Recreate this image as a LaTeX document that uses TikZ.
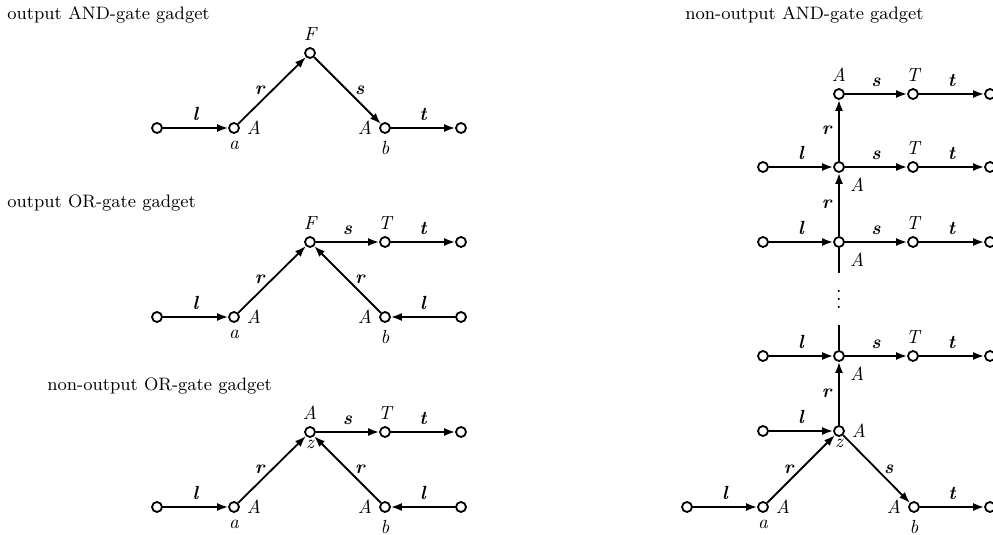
\documentclass[tikz,border=0pt]{standalone}
\usetikzlibrary{arrows.meta}
\begin{document}
\begin{tikzpicture}[x=0.5pt,y=-0.5pt,
  vtx/.style={circle,draw,line width=0.9pt,minimum size=5pt,inner sep=0pt},
  arr/.style={line width=0.9pt,-{Latex[length=5.5pt,width=4pt]}},
  ln/.style={line width=0.9pt},
  lab/.style={font=\fontsize{9.5}{11}\selectfont\bfseries\itshape},
  every label/.style={font=\fontsize{9.5}{11}\selectfont\itshape},
  ttl/.style={font=\fontsize{9}{10}\selectfont, anchor=west, inner sep=0pt},
]
\useasboundingbox (0,0) rectangle (993,535);

% titles
\node[ttl] (t1) at (7,15) {output AND-gate gadget};
\node[ttl] (t2) at (7,203) {output OR-gate gadget};
\node[ttl] (t3) at (47,386) {non-output OR-gate gadget};
\node[ttl] (t4) at (685,15) {non-output AND-gate gadget};

% panel 1: output AND
\node[vtx] (p1l) at (157,128) {};
\node[vtx,label=right:A,label=below:a] (p1a) at (234,128) {};
\node[vtx,label=above:F] (p1F) at (310,53) {};
\node[vtx,label=left:A,label=below:b] (p1b) at (385,128) {};
\node[vtx] (p1e) at (461,128) {};
\draw[arr] (p1l) -- node[lab,above]{l} (p1a);
\draw[arr] (p1a) -- node[lab,left]{r} (p1F);
\draw[arr] (p1F) -- node[lab,right]{s} (p1b);
\draw[arr] (p1b) -- node[lab,above]{t} (p1e);

% panel 2: output OR
\node[vtx] (p2l) at (157,317) {};
\node[vtx,label=right:A,label=below:a] (p2a) at (234,317) {};
\node[vtx,label=above:F] (p2F) at (310,242) {};
\node[vtx,label=above:T] (p2T) at (385,242) {};
\node[vtx] (p2e) at (461,242) {};
\node[vtx,label=left:A,label=below:b] (p2b) at (385,317) {};
\node[vtx] (p2r) at (461,317) {};
\draw[arr] (p2l) -- node[lab,above]{l} (p2a);
\draw[arr] (p2a) -- node[lab,left]{r} (p2F);
\draw[arr] (p2b) -- node[lab,right]{r} (p2F);
\draw[arr] (p2r) -- node[lab,above]{l} (p2b);
\draw[arr] (p2F) -- node[lab,above]{s} (p2T);
\draw[arr] (p2T) -- node[lab,above]{t} (p2e);

% panel 3: non-output OR
\node[vtx] (p3l) at (157,507) {};
\node[vtx,label=right:A,label=below:a] (p3a) at (234,507) {};
\node[vtx,label=above:A,label={[inner sep=1pt]below:z}] (p3z) at (310,432) {};
\node[vtx,label=above:T] (p3T) at (385,432) {};
\node[vtx] (p3e) at (461,432) {};
\node[vtx,label=left:A,label=below:b] (p3b) at (385,507) {};
\node[vtx] (p3r) at (461,507) {};
\draw[arr] (p3l) -- node[lab,above]{l} (p3a);
\draw[arr] (p3a) -- node[lab,left]{r} (p3z);
\draw[arr] (p3b) -- node[lab,right]{r} (p3z);
\draw[arr] (p3r) -- node[lab,above]{l} (p3b);
\draw[arr] (p3z) -- node[lab,above]{s} (p3T);
\draw[arr] (p3T) -- node[lab,above]{t} (p3e);

% right panel: non-output AND
% row 1
\node[vtx,label=above:A] (q1) at (839,94) {};
\node[vtx,label=above:T] (q1T) at (913,94) {};
\node[vtx] (q1e) at (990,94) {};
\draw[arr] (q1) -- node[lab,above]{s} (q1T);
\draw[arr] (q1T) -- node[lab,above]{t} (q1e);
% row 2
\node[vtx] (q2l) at (763,167) {};
\node[vtx,label=below right:A] (q2) at (839,167) {};
\node[vtx,label=above:T] (q2T) at (913,167) {};
\node[vtx] (q2e) at (990,167) {};
\draw[arr] (q2l) -- node[lab,above]{l} (q2);
\draw[arr] (q2) -- node[lab,above]{s} (q2T);
\draw[arr] (q2T) -- node[lab,above]{t} (q2e);
\draw[arr] (q2) -- node[lab,left]{r} (q1);
% row 3
\node[vtx] (q3l) at (763,242) {};
\node[vtx,label=below right:A] (q3) at (839,242) {};
\node[vtx,label=above:T] (q3T) at (913,242) {};
\node[vtx] (q3e) at (990,242) {};
\draw[arr] (q3l) -- node[lab,above]{l} (q3);
\draw[arr] (q3) -- node[lab,above]{s} (q3T);
\draw[arr] (q3T) -- node[lab,above]{t} (q3e);
\draw[arr] (q3) -- node[lab,left]{r} (q2);
% gap
\coordinate (c1) at (839,273);
\coordinate (c2) at (839,325);
\node[inner sep=0pt] (dots) at (839,293) {$\vdots$};
\draw[ln] (q3) -- (c1);
% row 4
\node[vtx] (q4l) at (763,356) {};
\node[vtx,label=below right:A] (q4) at (839,356) {};
\node[vtx,label=above:T] (q4T) at (913,356) {};
\node[vtx] (q4e) at (990,356) {};
\draw[ln] (c2) -- (q4);
\draw[arr] (q4l) -- node[lab,above]{l} (q4);
\draw[arr] (q4) -- node[lab,above]{s} (q4T);
\draw[arr] (q4T) -- node[lab,above]{t} (q4e);
% row z
\node[vtx] (q5l) at (763,431) {};
\node[vtx,label=right:A,label={[inner sep=1pt]below:z}] (qz) at (839,431) {};
\draw[arr] (q5l) -- node[lab,above]{l} (qz);
\draw[arr] (qz) -- node[lab,left]{r} (q4);
% bottom row
\node[vtx] (qbl) at (687,507) {};
\node[vtx,label=right:A,label=below:a] (qa) at (763,507) {};
\node[vtx,label=left:A,label=below:b] (qb) at (914,507) {};
\node[vtx] (qbe) at (990,507) {};
\draw[arr] (qbl) -- node[lab,above]{l} (qa);
\draw[arr] (qa) -- node[lab,left]{r} (qz);
\draw[arr] (qz) -- node[lab,right]{s} (qb);
\draw[arr] (qb) -- node[lab,above]{t} (qbe);
\end{tikzpicture}
\end{document}
